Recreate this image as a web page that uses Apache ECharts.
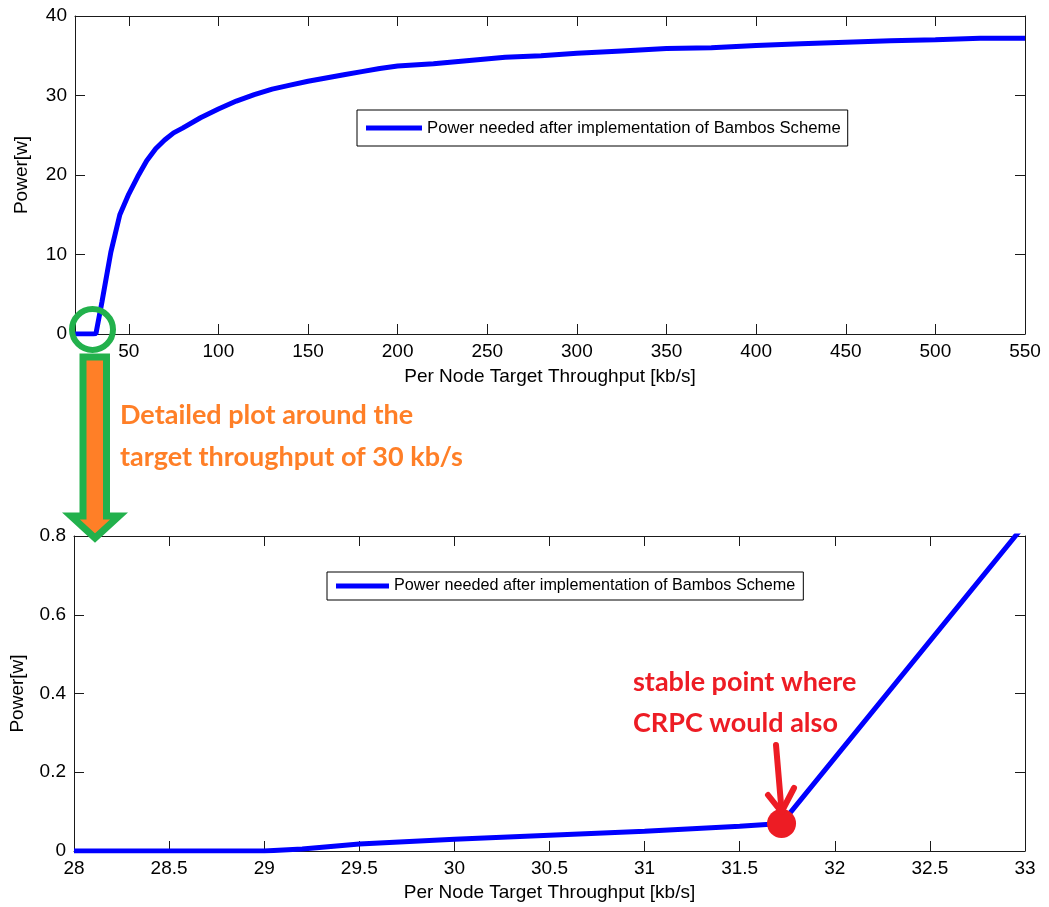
<!DOCTYPE html>
<html>
<head>
<meta charset="utf-8">
<script src="https://cdn.jsdelivr.net/npm/echarts@6/dist/echarts.min.js"></script>
<style>
  html, body { margin: 0; padding: 0; background: #fff; }
  #chart { width: 1049px; height: 907px; }
</style>
</head>
<body>
<div id="chart"></div>
<script>
// Power vs. per-node target throughput (full range)
const overviewThroughput = [20, 25, 30, 31.7, 35, 40, 45, 50, 55, 60, 65, 70, 75, 80, 90, 100, 110, 120, 130, 140, 150, 160, 170, 180, 190, 200, 220, 240, 260, 280, 300, 325, 350, 375, 400, 425, 450, 475, 500, 525, 550];
const overviewPower = [0, 0, 0, 0.07, 4.0, 10.3, 15.0, 17.6, 19.8, 21.8, 23.3, 24.4, 25.3, 25.9, 27.2, 28.3, 29.3, 30.1, 30.8, 31.3, 31.8, 32.2, 32.6, 33.0, 33.4, 33.7, 34.0, 34.4, 34.8, 35.0, 35.3, 35.6, 35.9, 36.0, 36.3, 36.5, 36.7, 36.9, 37.0, 37.2, 37.2];
const overviewTicks = [50, 100, 150, 200, 250, 300, 350, 400, 450, 500, 550];

// Zoomed view around 30 kb/s
const detailThroughput = [28, 29, 29.2, 29.5, 30, 30.5, 31, 31.5, 31.72, 33];
const detailPower = [0, 0, 0.005, 0.018, 0.03, 0.04, 0.05, 0.063, 0.07, 0.83];
const stablePoint = [31.72, 0.07];

const seriesName = 'Power needed after implementation of Bambos Scheme';
const xTitle = 'Per Node Target Throughput [kb/s]';
const yTitle = 'Power[w]';

const BLUE = '#0000ff';
const AXIS = '#1a1a1a';
const TXT = '#000';
const FONT = '"Liberation Sans", Arial, sans-serif';
const NOTE_FONT = 'bold 27px Lato, sans-serif';

const zip = (xs, ys) => xs.map((x, i) => [x, ys[i]]);

function boxAxes(grid, min, max, interval, custom, isX, showName, nameGap) {
  const base = {
    type: 'value', gridIndex: grid, min: min, max: max,
    splitLine: { show: false },
    axisLine: { show: true, onZero: false, lineStyle: { color: AXIS, width: 1 } },
    axisTick: { show: true, inside: true, length: 10, lineStyle: { color: AXIS } },
    axisLabel: { color: TXT, fontFamily: FONT, fontSize: 19, margin: 8 }
  };
  if (interval != null) base.interval = interval;
  if (custom) {
    base.axisTick.customValues = custom;
    base.axisLabel.customValues = custom;
  }
  const main = JSON.parse(JSON.stringify(base));
  main.position = isX ? 'bottom' : 'left';
  if (showName) {
    main.name = isX ? xTitle : yTitle;
    main.nameLocation = 'middle';
    main.nameGap = nameGap;
    main.nameTextStyle = { color: TXT, fontFamily: FONT, fontSize: 19 };
  }
  const mirror = JSON.parse(JSON.stringify(base));
  mirror.position = isX ? 'top' : 'right';
  mirror.axisLabel.show = false;
  return [main, mirror];
}

const chart = echarts.init(document.getElementById('chart'), null, { renderer: 'canvas' });

const x0 = boxAxes(0, 20, 550, null, overviewTicks, true, true, 33);
const y0 = boxAxes(0, 0, 40, 10, null, false, true, 44);
const x1 = boxAxes(1, 28, 33, 0.5, null, true, true, 32);
const y1 = boxAxes(1, 0, 0.8, 0.2, null, false, true, 47);

const legendBase = {
  orient: 'horizontal',
  icon: 'rect',
  borderColor: '#000',
  borderWidth: 1,
  backgroundColor: '#fff',
  data: [seriesName]
};

chart.setOption({
  animation: false,
  backgroundColor: '#fff',
  grid: [
    { left: 75, right: 24, top: 16, height: 318 },
    { left: 74, right: 24, top: 536, height: 315 }
  ],
  xAxis: [x0[0], x0[1], x1[0], x1[1]],
  yAxis: [y0[0], y0[1], y1[0], y1[1]],
  legend: [
    Object.assign({}, legendBase, {
      left: 357, top: 110, padding: [8, 7, 8, 9],
      itemWidth: 56, itemHeight: 5,
      textStyle: { color: TXT, fontFamily: FONT, fontSize: 16.7, lineHeight: 20 }
    }),
    Object.assign({}, legendBase, {
      left: 327, top: 572, padding: [5, 8, 5, 9],
      itemWidth: 53, itemHeight: 5,
      textStyle: { color: TXT, fontFamily: FONT, fontSize: 16.2, lineHeight: 18 }
    })
  ],
  series: [
    {
      name: seriesName, type: 'line', xAxisIndex: 0, yAxisIndex: 0,
      data: zip(overviewThroughput, overviewPower),
      showSymbol: false, symbol: 'none',
      lineStyle: { color: BLUE, width: 5 }, itemStyle: { color: BLUE }
    },
    {
      name: seriesName, type: 'line', xAxisIndex: 2, yAxisIndex: 2,
      data: zip(detailThroughput, detailPower),
      showSymbol: false, symbol: 'none', clip: true,
      lineStyle: { color: BLUE, width: 5 }, itemStyle: { color: BLUE }
    },
    {
      name: 'stable point', type: 'scatter', xAxisIndex: 2, yAxisIndex: 2,
      data: [stablePoint], symbolSize: 29, z: 10,
      itemStyle: { color: '#ed1c24', opacity: 1 }
    }
  ],
  graphic: [
    // zoom callout: arrow from the circled region down to the detail plot
    {
      type: 'polygon', z: 100,
      shape: { points: [[83, 357], [106.5, 357], [106.5, 516], [119, 516], [95, 538], [71, 516], [83, 516]] },
      style: { fill: '#ff7f27', stroke: '#22b14c', lineWidth: 7, lineJoin: 'miter' }
    },
    {
      type: 'circle', z: 101,
      shape: { cx: 92.5, cy: 329.5, r: 20.5 },
      style: { fill: 'none', stroke: '#22b14c', lineWidth: 6 }
    },
    {
      type: 'text', z: 101,
      style: { text: 'Detailed plot around the', x: 120, y: 415, fill: '#ff7f27',
               font: NOTE_FONT, textVerticalAlign: 'middle' }
    },
    {
      type: 'text', z: 101,
      style: { text: 'target throughput of 30 kb/s', x: 120, y: 457, fill: '#ff7f27',
               font: NOTE_FONT, textVerticalAlign: 'middle' }
    },
    // stable point note
    {
      type: 'text', z: 101,
      style: { text: 'stable point where', x: 633, y: 682, fill: '#ed1c24',
               font: NOTE_FONT, textVerticalAlign: 'middle' }
    },
    {
      type: 'text', z: 101,
      style: { text: 'CRPC would also', x: 633, y: 723, fill: '#ed1c24',
               font: NOTE_FONT, textVerticalAlign: 'middle' }
    },
    {
      type: 'polyline', z: 101,
      shape: { points: [[776, 745], [781.5, 810]] },
      style: { stroke: '#ed1c24', lineWidth: 6, lineCap: 'round', fill: 'none' }
    },
    {
      type: 'polyline', z: 101,
      shape: { points: [[768, 795], [781.5, 812], [794, 788]] },
      style: { stroke: '#ed1c24', lineWidth: 6, lineCap: 'round', lineJoin: 'round', fill: 'none' }
    }
  ]
});
</script>
</body>
</html>
